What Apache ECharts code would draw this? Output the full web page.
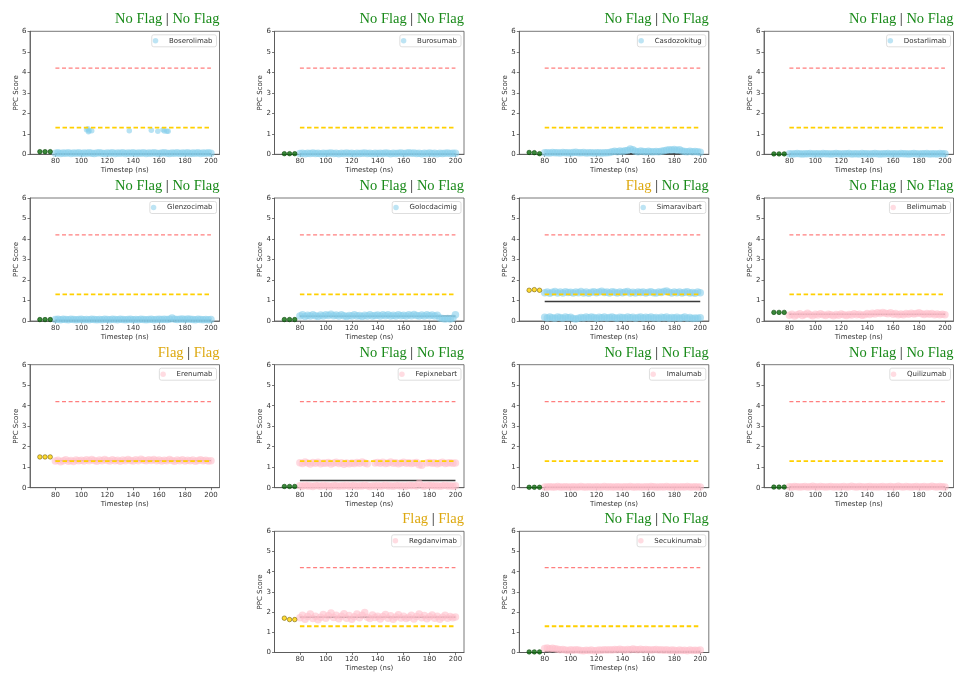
<!DOCTYPE html>
<html>
<head>
<meta charset="utf-8">
<script src="https://cdn.jsdelivr.net/npm/echarts@6/dist/echarts.min.js"></script>
<style>
  html, body { margin: 0; padding: 0; background: #fff; }
  #chart { width: 957px; height: 673px; }
</style>
</head>
<body>
<div id="chart"></div>
<script>
// ---- data -------------------------------------------------------------
const antibodies = ['Boserolimab', 'Burosumab', 'Casdozokitug', 'Dostarlimab',
  'Glenzocimab', 'Golocdacimig', 'Simaravibart', 'Belimumab',
  'Erenumab', 'Fepixnebart', 'Imalumab', 'Quilizumab',
  'Regdanvimab', 'Secukinumab'];

// verdicts shown above each panel: left | right
const flagLeft = ['No Flag', 'No Flag', 'No Flag', 'No Flag', 'No Flag', 'No Flag', 'Flag',
  'No Flag', 'Flag', 'No Flag', 'No Flag', 'No Flag', 'Flag', 'No Flag'];
const flagRight = ['No Flag', 'No Flag', 'No Flag', 'No Flag', 'No Flag', 'No Flag', 'No Flag',
  'No Flag', 'Flag', 'No Flag', 'No Flag', 'No Flag', 'Flag', 'No Flag'];

const upperThreshold = 4.2;
const lowerThreshold = 1.3;
const thresholdSpan = [80, 200];
const xTickLabels = [80, 100, 120, 140, 160, 180, 200];
const yTickLabels = [0, 1, 2, 3, 4, 5, 6];

const timesteps = [80, 82, 84, 86, 88, 90, 92, 94, 96, 98,
  100, 102, 104, 106, 108, 110, 112, 114, 116, 118,
  120, 122, 124, 126, 128, 130, 132, 134, 136, 138,
  140, 142, 144, 146, 148, 150, 152, 154, 156, 158,
  160, 162, 164, 166, 168, 170, 172, 174, 176, 178,
  180, 182, 184, 186, 188, 190, 192, 194, 196, 198,
  200];

// reference-structure scores plotted left of the trajectory
const refTimesteps = [68, 72, 76];
const refScores = [
  [0.13, 0.13, 0.13], [0.03, 0.03, 0.03], [0.09, 0.08, 0.03], [0.02, 0.02, 0.02],
  [0.07, 0.07, 0.07], [0.07, 0.07, 0.07], [1.50, 1.53, 1.50], [0.42, 0.42, 0.42],
  [1.50, 1.50, 1.50], [0.06, 0.06, 0.06], [0.02, 0.02, 0.02], [0.03, 0.03, 0.03],
  [1.70, 1.63, 1.63], [0.03, 0.03, 0.03]];

// trajectory means
const meanScores = [0.03, 0.02, 0.03, 0.02, 0.04, 0.24, 0.95,
  0.33, 1.32, 0.35, 0.02, 0.05, 1.75, 0.05];

// per-timestep PPC scores
const boserolimab = [0.05, 0.07, 0.04, 0.06, 0.05, 0.08, 0.04, 0.06, 0.05, 0.07,
  0.04, 0.06, 0.05, 0.07, 0.05, 0.04, 0.06, 0.08, 0.05, 0.04,
  0.06, 0.05, 0.07, 0.04, 0.06, 0.05, 0.07, 0.04, 0.06, 0.05,
  0.08, 0.04, 0.06, 0.05, 0.07, 0.04, 0.06, 0.05, 0.07, 0.05,
  0.04, 0.06, 0.08, 0.05, 0.04, 0.06, 0.05, 0.07, 0.04, 0.06,
  0.05, 0.07, 0.04, 0.06, 0.05, 0.08, 0.04, 0.06, 0.05, 0.07,
  0.05];
const boserolimabSpikeTimes = [104, 105, 105.5, 106, 108, 137, 154, 159, 163, 164, 166, 167];
const boserolimabSpikes = [1.20, 1.25, 1.10, 1.15, 1.15, 1.15, 1.17, 1.12, 1.20, 1.14, 1.12, 1.12];

const burosumab = [0.04, 0.05, 0.03, 0.05, 0.04, 0.06, 0.04, 0.05, 0.03, 0.05,
  0.04, 0.05, 0.06, 0.04, 0.05, 0.03, 0.05, 0.04, 0.06, 0.04,
  0.05, 0.03, 0.05, 0.04, 0.05, 0.06, 0.04, 0.05, 0.03, 0.05,
  0.04, 0.05, 0.04, 0.06, 0.05, 0.03, 0.05, 0.04, 0.05, 0.06,
  0.04, 0.05, 0.07, 0.05, 0.06, 0.04, 0.05, 0.03, 0.05, 0.04,
  0.06, 0.04, 0.05, 0.03, 0.05, 0.04, 0.05, 0.06, 0.04, 0.05,
  0.05];

const casdozokitug = [0.07, 0.08, 0.06, 0.09, 0.07, 0.08, 0.06, 0.09, 0.07, 0.08,
  0.06, 0.09, 0.10, 0.08, 0.07, 0.09, 0.06, 0.08, 0.07, 0.06,
  0.08, 0.07, 0.06, 0.08, 0.07, 0.09, 0.12, 0.15, 0.13, 0.16,
  0.14, 0.17, 0.19, 0.26, 0.22, 0.15, 0.13, 0.16, 0.14, 0.12,
  0.15, 0.13, 0.12, 0.14, 0.13, 0.15, 0.17, 0.20, 0.22, 0.21,
  0.23, 0.20, 0.22, 0.16, 0.14, 0.13, 0.15, 0.12, 0.14, 0.13,
  0.10];

const dostarlimab = [0.03, 0.02, 0.03, 0.04, 0.03, 0.02, 0.03, 0.03, 0.04, 0.02,
  0.03, 0.03, 0.02, 0.04, 0.03, 0.03, 0.02, 0.03, 0.04, 0.03,
  0.02, 0.03, 0.03, 0.04, 0.02, 0.03, 0.03, 0.02, 0.04, 0.03,
  0.03, 0.02, 0.03, 0.04, 0.03, 0.02, 0.03, 0.03, 0.04, 0.02,
  0.03, 0.03, 0.02, 0.04, 0.03, 0.03, 0.02, 0.03, 0.04, 0.03,
  0.02, 0.03, 0.03, 0.04, 0.02, 0.03, 0.03, 0.02, 0.04, 0.03,
  0.03];

const glenzocimab = [0.07, 0.08, 0.06, 0.09, 0.07, 0.06, 0.08, 0.07, 0.06, 0.07,
  0.08, 0.06, 0.07, 0.06, 0.08, 0.07, 0.06, 0.07, 0.06, 0.08,
  0.07, 0.06, 0.08, 0.07, 0.06, 0.09, 0.07, 0.06, 0.07, 0.08,
  0.06, 0.07, 0.06, 0.08, 0.07, 0.06, 0.07, 0.08, 0.06, 0.07,
  0.08, 0.07, 0.09, 0.07, 0.08, 0.15, 0.09, 0.07, 0.08, 0.10,
  0.07, 0.10, 0.08, 0.07, 0.06, 0.08, 0.07, 0.06, 0.07, 0.06,
  0.07];

const golocdacimig = [0.25, 0.30, 0.22, 0.28, 0.24, 0.30, 0.26, 0.22, 0.29, 0.25,
  0.31, 0.27, 0.33, 0.26, 0.29, 0.24, 0.30, 0.26, 0.22, 0.27,
  0.25, 0.30, 0.24, 0.27, 0.22, 0.28, 0.25, 0.30, 0.24, 0.27,
  0.29, 0.25, 0.30, 0.26, 0.31, 0.24, 0.28, 0.25, 0.30, 0.26,
  0.28, 0.24, 0.30, 0.26, 0.32, 0.27, 0.25, 0.29, 0.24, 0.30,
  0.26, 0.29, 0.25, 0.28, 0.15, 0.12, 0.10, 0.12, 0.10, 0.14,
  0.30];

const simaravibartHigh = [1.38, 1.42, 1.35, 1.40, 1.44, 1.37, 1.41, 1.36, 1.43, 1.39,
  1.40, 1.36, 1.42, 1.38, 1.44, 1.37, 1.41, 1.35, 1.40, 1.43,
  1.38, 1.42, 1.45, 1.39, 1.41, 1.37, 1.43, 1.40, 1.36, 1.42,
  1.38, 1.41, 1.44, 1.37, 1.40, 1.36, 1.42, 1.39, 1.41, 1.37,
  1.40, 1.43, 1.38, 1.36, 1.41, 1.39, 1.44, 1.46, 1.40, 1.37,
  1.42, 1.38, 1.41, 1.36, 1.40, 1.43, 1.37, 1.39, 1.35, 1.41,
  1.38];
const simaravibartLow = [0.18, 0.15, 0.20, 0.16, 0.13, 0.19, 0.17, 0.14, 0.20, 0.16,
  0.18, 0.12, 0.10, 0.14, 0.17, 0.15, 0.19, 0.16, 0.20, 0.17,
  0.14, 0.18, 0.16, 0.19, 0.15, 0.17, 0.20, 0.16, 0.14, 0.18,
  0.17, 0.15, 0.19, 0.16, 0.18, 0.14, 0.17, 0.19, 0.15, 0.18,
  0.16, 0.20, 0.15, 0.17, 0.13, 0.18, 0.16, 0.19, 0.14, 0.17,
  0.15, 0.18, 0.13, 0.16, 0.19, 0.14, 0.17, 0.12, 0.15, 0.13,
  0.16];

const belimumab = [0.28, 0.33, 0.25, 0.30, 0.35, 0.27, 0.32, 0.38, 0.30, 0.26,
  0.33, 0.29, 0.35, 0.31, 0.27, 0.33, 0.30, 0.26, 0.32, 0.28,
  0.34, 0.30, 0.27, 0.32, 0.29, 0.35, 0.30, 0.33, 0.28, 0.31,
  0.36, 0.32, 0.38, 0.34, 0.40, 0.37, 0.42, 0.38, 0.35, 0.40,
  0.33, 0.36, 0.31, 0.34, 0.30, 0.37, 0.33, 0.38, 0.34, 0.36,
  0.40, 0.35, 0.32, 0.37, 0.33, 0.36, 0.31, 0.34, 0.30, 0.33,
  0.31];

const erenumab = [1.30, 1.34, 1.27, 1.32, 1.36, 1.29, 1.33, 1.28, 1.35, 1.31,
  1.34, 1.30, 1.36, 1.32, 1.38, 1.33, 1.29, 1.35, 1.31, 1.37,
  1.33, 1.30, 1.36, 1.32, 1.34, 1.29, 1.35, 1.31, 1.37, 1.33,
  1.30, 1.36, 1.32, 1.39, 1.34, 1.31, 1.36, 1.33, 1.38, 1.32,
  1.35, 1.30, 1.34, 1.31, 1.37, 1.33, 1.29, 1.35, 1.32, 1.36,
  1.30, 1.34, 1.31, 1.35, 1.29, 1.33, 1.36, 1.31, 1.34, 1.30,
  1.32];

const fepixnebartHigh = [1.22, 1.18, 1.25, 1.20, 1.16, 1.23, 1.19, 1.24, 1.17, 1.21,
  1.19, 1.23, 1.16, 1.20, 1.24, 1.18, 1.22, 1.15, 1.20, 1.17,
  1.21, 1.18, 1.23, 1.19, 1.25, 1.20, 1.17, null, null, 1.20,
  1.23, 1.19, 1.24, 1.18, 1.21, 1.25, 1.19, 1.22, 1.17, 1.21,
  1.24, 1.19, 1.22, 1.18, 1.20, 1.23, 1.12, 1.10, null, 1.20,
  1.23, 1.19, 1.22, 1.17, 1.21, 1.24, 1.18, 1.20, 1.22, 1.19,
  1.20];
const fepixnebartLow = [0.10, 0.07, 0.12, 0.08, 0.10, 0.06, 0.11, 0.09, 0.07, 0.12,
  0.08, 0.10, 0.06, 0.11, 0.09, 0.07, 0.10, 0.08, 0.12, 0.07,
  0.09, 0.11, 0.07, 0.10, 0.08, 0.12, 0.09, 0.06, 0.10, 0.08,
  0.11, 0.07, 0.09, 0.12, 0.08, 0.10, 0.07, 0.11, 0.09, 0.08,
  0.10, 0.07, 0.12, 0.09, 0.11, 0.08, 0.22, 0.10, 0.07, 0.12,
  0.09, 0.11, 0.08, 0.10, 0.07, 0.09, 0.12, 0.08, 0.10, 0.07,
  0.09];

const imalumab = [0.04, 0.03, 0.05, 0.03, 0.04, 0.06, 0.03, 0.04, 0.05, 0.03,
  0.04, 0.05, 0.03, 0.04, 0.06, 0.04, 0.03, 0.05, 0.04, 0.03,
  0.05, 0.04, 0.03, 0.06, 0.04, 0.05, 0.03, 0.04, 0.05, 0.04,
  0.03, 0.05, 0.04, 0.06, 0.04, 0.03, 0.05, 0.04, 0.03, 0.05,
  0.04, 0.06, 0.05, 0.04, 0.03, 0.05, 0.04, 0.06, 0.04, 0.03,
  0.05, 0.04, 0.03, 0.05, 0.04, 0.06, 0.03, 0.04, 0.05, 0.04,
  0.03];

const quilizumab = [0.05, 0.04, 0.06, 0.05, 0.03, 0.05, 0.06, 0.04, 0.05, 0.07,
  0.05, 0.04, 0.06, 0.05, 0.04, 0.05, 0.06, 0.04, 0.05, 0.03,
  0.05, 0.06, 0.04, 0.05, 0.07, 0.05, 0.04, 0.06, 0.05, 0.04,
  0.05, 0.06, 0.04, 0.05, 0.03, 0.05, 0.06, 0.04, 0.05, 0.06,
  0.04, 0.05, 0.07, 0.05, 0.04, 0.06, 0.05, 0.04, 0.05, 0.06,
  0.04, 0.05, 0.06, 0.04, 0.05, 0.07, 0.05, 0.04, 0.06, 0.05,
  0.04];

const regdanvimab = [1.72, 1.85, 1.65, 1.78, 1.90, 1.68, 1.80, 1.62, 1.75, 1.88,
  1.70, 1.82, 1.95, 1.73, 1.85, 1.67, 1.79, 1.92, 1.70, 1.83,
  1.65, 1.77, 1.90, 1.72, 1.84, 1.98, 1.75, 1.68, 1.86, 1.73,
  1.80, 1.66, 1.78, 1.88, 1.70, 1.82, 1.64, 1.76, 1.87, 1.71,
  1.80, 1.68, 1.75, 1.85, 1.66, 1.78, 1.90, 1.72, 1.83, 1.67,
  1.77, 1.86, 1.70, 1.80, 1.65, 1.74, 1.84, 1.69, 1.78, 1.72,
  1.76];

const secukinumab = [0.20, 0.22, 0.19, 0.21, 0.18, 0.16, 0.13, 0.15, 0.12, 0.10,
  0.13, 0.11, 0.14, 0.12, 0.10, 0.09, 0.11, 0.10, 0.12, 0.09,
  0.10, 0.12, 0.11, 0.13, 0.12, 0.14, 0.12, 0.15, 0.13, 0.16,
  0.14, 0.12, 0.15, 0.13, 0.17, 0.15, 0.14, 0.16, 0.13, 0.15,
  0.14, 0.12, 0.13, 0.15, 0.12, 0.14, 0.11, 0.13, 0.10, 0.12,
  0.11, 0.09, 0.12, 0.10, 0.11, 0.09, 0.12, 0.10, 0.11, 0.10,
  0.12];

// score traces per panel (some trajectories split into two populations)
const panelTraces = [
  [boserolimab], [burosumab], [casdozokitug], [dostarlimab],
  [glenzocimab], [golocdacimig], [simaravibartHigh, simaravibartLow], [belimumab],
  [erenumab], [fepixnebartHigh, fepixnebartLow], [imalumab], [quilizumab],
  [regdanvimab], [secukinumab]];
// panels 0-6 are one antibody group (blue), 7-13 the other (pink)
const groupOf = [0, 0, 0, 0, 0, 0, 0, 1, 1, 1, 1, 1, 1, 1];

// ---- layout & style ---------------------------------------------------
const W = 957;
const colLeft = [30, 274.5, 519.3, 764];
const rowTop = [31.3, 198, 364.7, 531.3];
const plotW = 189.5, plotH = 123;
const cellOf = [[0,0],[0,1],[0,2],[0,3],[1,0],[1,1],[1,2],[1,3],[2,0],[2,1],[2,2],[2,3],[3,1],[3,2]];
const groupColor = ['#87CEEB', '#FFC0CB'];
const green = '#1a8a1a';
const gold = '#DDA80F';
const serif = '"Liberation Serif", "DejaVu Serif", serif';
const sans = '"DejaVu Sans", sans-serif';
const axisColor = '#555';
const textColor = '#333';
const smallFont = 7;

function points(xs, ys) {
  const out = [];
  for (let i = 0; i < xs.length && i < ys.length; i++) {
    if (ys[i] !== null && ys[i] !== undefined) out.push([xs[i], ys[i]]);
  }
  return out;
}

const grids = [], xAxes = [], yAxes = [], series = [], titles = [], legends = [];

antibodies.forEach((name, i) => {
  const [r, c] = cellOf[i];
  const left = colLeft[c], top = rowTop[r];
  const right = W - (left + plotW);
  const color = groupColor[groupOf[i]];

  grids.push({ left, top, width: plotW, height: plotH, show: true,
    borderColor: axisColor, borderWidth: 0.8, backgroundColor: '#fff' });

  xAxes.push({ gridIndex: i, type: 'value', min: 60.4, max: 206.6,
    axisLine: { show: true, lineStyle: { color: axisColor, width: 0.8 } },
    axisTick: { show: true, length: 2.5, customValues: xTickLabels, lineStyle: { color: axisColor, width: 0.8 } },
    axisLabel: { customValues: xTickLabels, fontSize: smallFont, color: textColor, fontFamily: sans, margin: 3.5 },
    splitLine: { show: false },
    name: 'Timestep (ns)', nameLocation: 'middle', nameGap: 12.5,
    nameTextStyle: { fontSize: smallFont, color: textColor, fontFamily: sans } });

  yAxes.push({ gridIndex: i, type: 'value', min: 0, max: 6, interval: 1,
    axisLine: { show: true, lineStyle: { color: axisColor, width: 0.8 } },
    axisTick: { show: true, length: 2.5, lineStyle: { color: axisColor, width: 0.8 } },
    axisLabel: { fontSize: smallFont, color: textColor, fontFamily: sans, margin: 3.5,
      formatter: v => yTickLabels.includes(v) ? String(v) : '' },
    splitLine: { show: false },
    name: 'PPC Score', nameLocation: 'middle', nameGap: 10.5, nameMoveOverlap: false,
    nameTextStyle: { fontSize: smallFont, color: textColor, fontFamily: sans } });

  // mean of the trajectory
  series.push({ type: 'line', xAxisIndex: i, yAxisIndex: i, z: 1,
    data: [[timesteps[0], meanScores[i]], [timesteps[timesteps.length - 1], meanScores[i]]],
    symbol: 'none', silent: true, lineStyle: { color: '#3a3a3a', width: 1.4 } });

  // per-timestep scores
  panelTraces[i].forEach(trace => {
    series.push({ type: 'scatter', name, xAxisIndex: i, yAxisIndex: i, z: 2,
      data: points(timesteps, trace), symbolSize: 7.5, clip: false,
      itemStyle: { color, opacity: 0.6 } });
  });
  if (i === 0) {
    series.push({ type: 'scatter', name, xAxisIndex: i, yAxisIndex: i, z: 2,
      data: points(boserolimabSpikeTimes, boserolimabSpikes), symbolSize: 5.5,
      itemStyle: { color, opacity: 0.6 } });
  }

  // reference scores
  const flagged = flagLeft[i] === 'Flag';
  series.push({ type: 'scatter', xAxisIndex: i, yAxisIndex: i, z: 4, silent: true,
    data: points(refTimesteps, refScores[i]), symbolSize: 4.5,
    itemStyle: flagged ? { color: '#FFD200', borderColor: '#6b5600', borderWidth: 0.7 }
                       : { color: '#0a6a0a', borderColor: '#024002', borderWidth: 0.7 } });

  // threshold guides, kept on their own canvas layer above the data
  series.push({ type: 'line', xAxisIndex: i, yAxisIndex: i, zlevel: 1, z: 3,
    symbol: 'none', silent: true,
    data: thresholdSpan.map(x => [x, upperThreshold]),
    itemStyle: { color: '#FF7F7F' },
    lineStyle: { color: '#FF7F7F', width: 1.2, type: [4, 2.6], opacity: 1 } });
  series.push({ type: 'line', xAxisIndex: i, yAxisIndex: i, zlevel: 1, z: 3,
    symbol: 'none', silent: true,
    data: thresholdSpan.map(x => [x, lowerThreshold]),
    itemStyle: { color: '#FFD000' },
    lineStyle: { color: '#FFD000', width: 1.8, type: [4.5, 2.6], opacity: 1 } });

  // verdict title
  const styleFor = f => f === 'Flag' ? 'f' : 'n';
  titles.push({
    text: `{${styleFor(flagLeft[i])}|${flagLeft[i]}} {s||} {${styleFor(flagRight[i])}|${flagRight[i]}}`,
    right: right, top: top - 19.5, padding: 0,
    textStyle: { fontFamily: serif, fontSize: 14.5, fontWeight: 'normal', color: '#111',
      rich: {
        n: { color: green, fontFamily: serif, fontSize: 14.5 },
        f: { color: gold, fontFamily: serif, fontSize: 14.5 },
        s: { color: '#111', fontFamily: serif, fontSize: 14.5 }
      } }
  });

  legends.push({ data: [{ name, itemStyle: { color, opacity: 0.55 } }],
    right: right + 3, top: top + 3.5, orient: 'horizontal',
    icon: 'circle', itemWidth: 17, itemHeight: 5.5, selectedMode: false,
    padding: [2.5, 4, 2.5, 1], borderColor: '#d6d6d6', borderWidth: 0.8, borderRadius: 2,
    backgroundColor: '#fff',
    textStyle: { fontSize: smallFont, color: textColor, fontFamily: sans } });
});

const chart = echarts.init(document.getElementById('chart'), null, { renderer: 'canvas' });
chart.setOption({
  animation: false,
  backgroundColor: '#fff',
  title: titles,
  legend: legends,
  grid: grids,
  xAxis: xAxes,
  yAxis: yAxes,
  series
});
</script>
</body>
</html>
